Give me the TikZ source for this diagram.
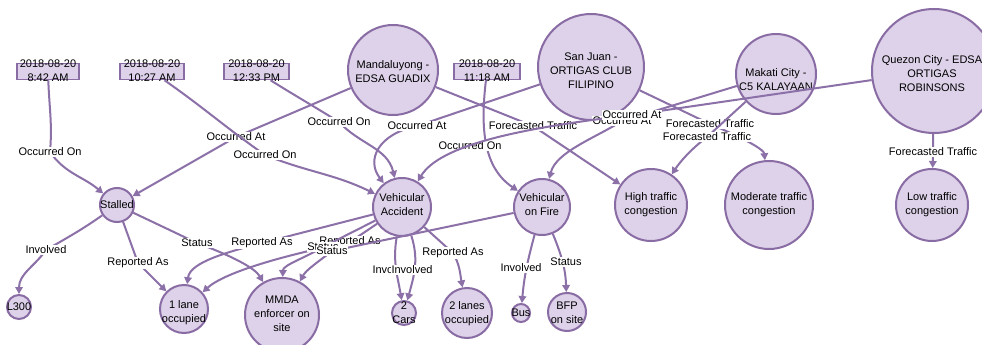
\documentclass[tikz,border=0pt]{standalone}
\usepackage{fontspec}
\setmainfont{Liberation Sans}
\usetikzlibrary{arrows.meta}
\definecolor{nfill}{RGB}{221,210,233}
\definecolor{nline}{RGB}{138,108,164}
\definecolor{ecol}{RGB}{140,112,168}
\begin{document}
\begin{tikzpicture}[x=1pt,y=1pt,
  ent/.style={circle,draw=nline,fill=nfill,line width=2pt,inner sep=0pt},
  etxt/.style={align=center,font=\fontsize{11}{14}\selectfont,inner sep=0pt},
  datebox/.style={rectangle,draw=nline,fill=nfill,line width=1.6pt,inner sep=0pt,minimum height=16pt},
  rel/.style={draw=ecol,line width=2pt,-{Triangle[length=7pt,width=7.5pt]}},
  lab/.style={fill=white,inner sep=0.8pt,font=\fontsize{11}{13}\selectfont}]
\useasboundingbox (0,0) rectangle (982,-345);
\fill[white] (0,0) rectangle (982,-345);

% ---------- location nodes ----------
\node[ent,minimum size=90pt] (mand) at (393,-70) {};
\node[etxt] (mandT) at (393,-72) {Mandaluyong -\\EDSA GUADIX};
\node[ent,minimum size=106pt] (sanj) at (591,-67) {};
\node[etxt] (sanjT) at (591,-71) {San Juan -\\ORTIGAS CLUB\\FILIPINO};
\node[ent,minimum size=80pt] (mak) at (776,-74) {};
\node[etxt] (makT) at (776,-80) {Makati City -\\C5 KALAYAAN};
\node[ent,minimum size=124pt] (quez) at (934,-71) {};
\node[etxt] (quezT) at (932,-74) {Quezon City - EDSA\\ORTIGAS\\ROBINSONS};

% ---------- date nodes ----------
\node[datebox,minimum width=62pt] (d1) at (48,-71.5) {};
\node[etxt] (d1T) at (48,-71) {2018-08-20\\8:42 AM};
\node[datebox,minimum width=64pt] (d2) at (152,-71.5) {};
\node[etxt] (d2T) at (152,-71) {2018-08-20\\10:27 AM};
\node[datebox,minimum width=65pt] (d3) at (256.5,-71.5) {};
\node[etxt] (d3T) at (256.5,-71) {2018-08-20\\12:33 PM};
\node[datebox,minimum width=66pt] (d4) at (487,-71.5) {};
\node[etxt] (d4T) at (487,-71) {2018-08-20\\11:18 AM};

% ---------- event nodes ----------
\node[ent,minimum size=34pt] (stalled) at (117,-205) {};
\node[etxt] (stalledT) at (117,-205) {Stalled};
\node[ent,minimum size=58pt] (va) at (402,-207) {};
\node[etxt] (vaT) at (402,-205) {Vehicular\\Accident};
\node[ent,minimum size=56pt] (vof) at (542,-207) {};
\node[etxt] (vofT) at (542,-205) {Vehicular\\on Fire};
\node[ent,minimum size=72pt] (high) at (651,-205) {};
\node[etxt] (highT) at (651,-205) {High traffic\\congestion};
\node[ent,minimum size=88pt] (mod) at (769,-205) {};
\node[etxt] (modT) at (769,-205) {Moderate traffic\\congestion};
\node[ent,minimum size=72pt] (low) at (932,-205) {};
\node[etxt] (lowT) at (932,-205) {Low traffic\\congestion};

% ---------- value nodes ----------
\node[ent,minimum size=24pt] (l300) at (19,-307) {};
\node[etxt] (l300T) at (19,-307) {L300};
\node[ent,minimum size=48pt] (lane1) at (184,-309) {};
\node[etxt] (lane1T) at (184,-313) {1 lane\\occupied};
\node[ent,minimum size=74pt] (mmda) at (282,-315) {};
\node[etxt] (mmdaT) at (282,-314) {MMDA\\enforcer on\\site};
\node[ent,minimum size=24pt] (cars) at (404,-313) {};
\node[etxt] (carsT) at (404,-313) {2\\Cars};
\node[ent,minimum size=50pt] (lanes2) at (467,-313) {};
\node[etxt] (lanes2T) at (467,-314) {2 lanes\\occupied};
\node[ent,minimum size=18pt] (bus) at (521,-313) {};
\node[etxt] (busT) at (521,-313) {Bus};
\node[ent,minimum size=38pt] (bfp) at (567,-312) {};
\node[etxt] (bfpT) at (567,-313) {BFP\\on site};

% ---------- relationships ----------
\coordinate (L1) at (50,-152);
\draw[rel] (d1) to[out=-88,in=85] (L1) to[out=-55,in=140] (stalled);
\node[lab] (L1t) at (L1) {Occurred On};

\coordinate (L2) at (236,-137);
\draw[rel] (mand) -- (L2) -- (stalled);
\node[lab] (L2t) at (L2) {Occurred At};

\coordinate (L3) at (265,-155);
\draw[rel] (d2) to[out=-35,in=145] (L3) to[out=-22,in=154] (va);
\node[lab] (L3t) at (L3) {Occurred On};

\coordinate (L4) at (339,-122);
\draw[rel] (d3) to[out=-32,in=148] (L4) to[out=-47,in=104] (va);
\node[lab] (L4t) at (L4) {Occurred On};

\coordinate (L5) at (417,-126);
\draw[rel] (sanj) -- (L5) .. controls (378,-134) and (366,-160) .. (va);
\node[lab] (L5t) at (L5) {Occurred At};

\coordinate (L6) at (533,-126);
\draw[rel] (mand) -- (L6) -- (high);
\node[lab] (L6t) at (L6) {Forecasted Traffic};

\coordinate (L7) at (470,-146);
\draw[rel] (d4) .. controls (480,-130) and (484,-168) .. (vof);
\node[lab] (L7t) at (L7) {Occurred On};

\coordinate (L9) at (622,-121);
\draw[rel] (mak) -- (L9) .. controls (595,-138) and (556,-152) .. (vof);
\node[lab] (L9t) at (L9) {Occurred At};

\coordinate (L8) at (632,-115);
\draw[rel] (quez) -- (L8) .. controls (520,-128) and (440,-145) .. (va);
\node[lab] (L8t) at (L8) {Occurred At};

\coordinate (L10) at (710,-124);
\draw[rel] (sanj) -- (L10) .. controls (748,-140) and (764,-150) .. (mod);
\node[lab] (L10t) at (L10) {Forecasted Traffic};

\coordinate (L11) at (707,-137);
\draw[rel] (mak) -- (L11) .. controls (690,-150) and (680,-162) .. (high);
\node[lab] (L11t) at (L11) {Forecasted Traffic};

\coordinate (L12) at (933,-152);
\draw[rel] (quez) -- (L12) -- (low);
\node[lab] (L12t) at (L12) {Forecasted Traffic};

\coordinate (L13) at (46,-250);
\draw[rel] (stalled) to[out=-145,in=30] (L13) to[out=-125,in=90] (l300);
\node[lab] (L13t) at (L13) {Involved};

\coordinate (L14) at (138,-263);
\draw[rel] (stalled) -- (L14) -- (lane1);
\node[lab] (L14t) at (L14) {Reported As};

\coordinate (L15) at (197,-243);
\draw[rel] (stalled) -- (L15) .. controls (232,-256) and (255,-268) .. (mmda);
\node[lab] (L15t) at (L15) {Status};

\coordinate (L16) at (262,-243);
\draw[rel] (va) -- (L16) .. controls (228,-252) and (190,-262) .. (lane1);
\node[lab] (L16t) at (L16) {Reported As};

\coordinate (L17) at (350,-242);
\draw[rel] (va) -- (L17) .. controls (285,-255) and (225,-272) .. (lane1);
\node[lab] (L17t) at (L17) {Reported As};

\coordinate (L18) at (323,-247);
\draw[rel] (va) -- (L18) .. controls (305,-258) and (283,-265) .. (mmda);
\node[lab] (L18t) at (L18) {Status};

\coordinate (L19) at (332,-251);
\draw[rel] (vof) -- (L19) .. controls (318,-262) and (306,-270) .. (mmda);
\node[lab] (L19t) at (L19) {Status};

\coordinate (L20) at (393,-270);
\draw[rel] (va) to[out=-100,in=100] (cars);
\node[lab] (L20t) at (L20) {Involved};
\coordinate (L21) at (412,-270);
\draw[rel] (va) to[out=-72,in=75] (cars);
\node[lab] (L21t) at (L21) {Involved};

\coordinate (L22) at (453,-253);
\draw[rel] (va) -- (L22) to[out=-60,in=100] (lanes2);
\node[lab] (L22t) at (L22) {Reported As};

\coordinate (L23) at (521,-268);
\draw[rel] (vof) to[out=-105,in=85] (bus);
\node[lab] (L23t) at (L23) {Involved};

\coordinate (L24) at (566,-262);
\draw[rel] (vof) to[out=-68,in=92] (bfp);
\node[lab] (L24t) at (L24) {Status};
\end{tikzpicture}
\end{document}
